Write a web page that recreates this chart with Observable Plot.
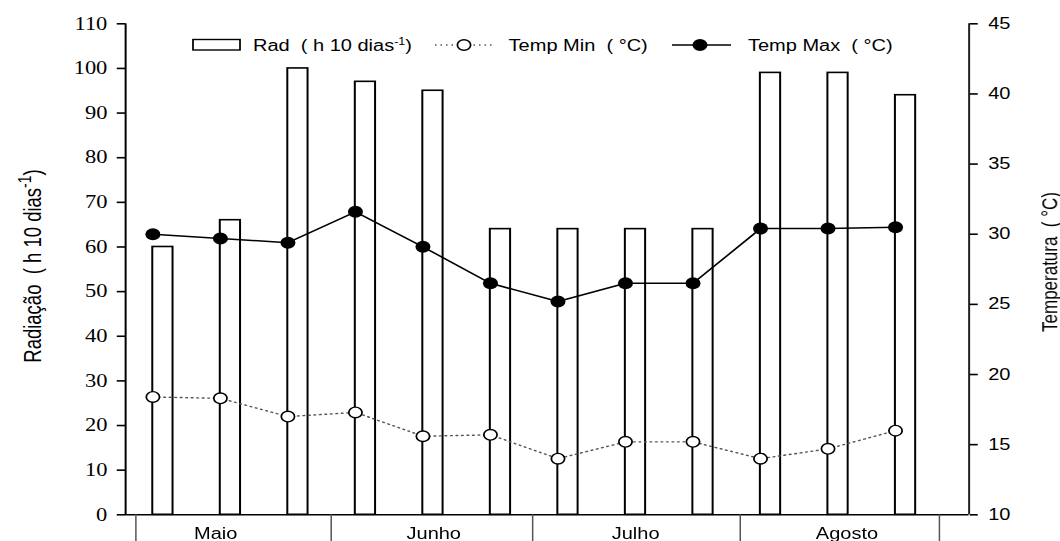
<!DOCTYPE html>
<html>
<head>
<meta charset="utf-8">
<script src="https://cdn.jsdelivr.net/npm/d3@7"></script>
<script src="https://cdn.jsdelivr.net/npm/@observablehq/plot@0.6"></script>
<style>
  html, body { margin: 0; padding: 0; background: #fff; overflow: hidden; }
  /* the figure is drawn narrow and widened, giving its wide lettering and oval markers */
  #chart { width: 848px; height: 541px; transform: scaleX(1.25); transform-origin: 0 0; }
  #chart svg { display: block; overflow: visible; }
</style>
</head>
<body>
<div id="chart"></div>
<script>
// ten-day periods (decêndios), May to August
const decades = [1, 2, 3, 4, 5, 6, 7, 8, 9, 10, 11, 12];
const months = ["Maio", "Junho", "Julho", "Agosto"];
const monthEdges = [0.748, 3.641, 6.625, 9.70, 12.65];   // boundaries between months, in decade units
const monthCenters = [1.93, 5.16, 8.15, 11.28];           // where each month name sits

// radiation (h per 10 days) and temperatures (°C)
const radiation = [60, 66, 100, 97, 95, 64, 64, 64, 64, 99, 99, 94];
const tempMin = [18.4, 18.3, 17.0, 17.3, 15.6, 15.7, 14.0, 15.2, 15.2, 14.0, 14.7, 16.0];
const tempMax = [30.0, 29.7, 29.4, 31.6, 29.1, 26.5, 25.2, 26.5, 26.5, 30.4, 30.4, 30.5];

const radTicks = [0, 10, 20, 30, 40, 50, 60, 70, 80, 90, 100, 110];
const tempTicks = [10, 15, 20, 25, 30, 35, 40, 45];

const radDomain = [0, 110];
const tempDomain = [10, 45];
const xDomain = [0.596, 13.09];
const barWidth = 0.3;

// temperature mapped onto the radiation axis (shared vertical extent)
const toRad = t => (t - tempDomain[0]) * (radDomain[1] - radDomain[0]) / (tempDomain[1] - tempDomain[0]);
const fromRad = v => tempDomain[0] + v * (tempDomain[1] - tempDomain[0]) / (radDomain[1] - radDomain[0]);

const rows = decades.map((d, i) => ({decade: d, rad: radiation[i], tmin: tempMin[i], tmax: tempMax[i]}));

const sans = "'Liberation Sans', Arial, sans-serif";
const serif = "'Liberation Serif', 'Times New Roman', serif";
const dotted = "1.2,3.2";

const chart = Plot.plot({
  width: 848,
  height: 541,
  marginLeft: 100,
  marginRight: 73.2,
  marginTop: 23.3,
  marginBottom: 26.7,
  x: {domain: xDomain, label: null},
  y: {domain: radDomain, label: null},
  style: {fontFamily: sans, background: "white", color: "black", overflow: "visible"},
  marks: [
    // radiation bars
    Plot.rect(rows, {x1: "decade", x2: d => d.decade + barWidth, y1: 0, y2: "rad",
      fill: "white", stroke: "black", strokeWidth: 1.6}),
    // axis lines
    Plot.ruleY([radDomain[0]], {stroke: "black", strokeWidth: 1.6}),
    Plot.ruleX([xDomain[0]], {stroke: "black", strokeWidth: 1.6}),
    Plot.ruleX([xDomain[1]], {stroke: "#222", strokeWidth: 1.6}),
    // left axis: radiation
    Plot.axisY(radTicks, {anchor: "left", tickSize: 6.6, tickPadding: 8, strokeWidth: 1.6,
      fontFamily: serif, fontSize: 18, label: null}),
    // right axis: temperature
    Plot.axisY(tempTicks.map(toRad), {anchor: "right", tickSize: 6.4, tickPadding: 8.8, strokeWidth: 1.6,
      tickFormat: v => Math.round(fromRad(v)), fontFamily: sans, fontSize: 16, label: null}),
    // month separators and names
    Plot.axisX(monthEdges, {anchor: "bottom", tickSize: 27, tickFormat: () => "",
      stroke: "#555", strokeWidth: 1.2, label: null}),
    Plot.axisX(monthCenters, {anchor: "bottom", tickSize: 0, tickPadding: 13,
      tickFormat: d => months[monthCenters.indexOf(d)], fontSize: 16, label: null}),
    // minimum temperature
    Plot.line(rows, {x: "decade", y: d => toRad(d.tmin), stroke: "#555", strokeWidth: 1.4, strokeDasharray: dotted}),
    Plot.dot(rows, {x: "decade", y: d => toRad(d.tmin), r: 5.3, fill: "white", stroke: "black", strokeWidth: 1.4}),
    // maximum temperature
    Plot.line(rows, {x: "decade", y: d => toRad(d.tmax), stroke: "black", strokeWidth: 1.5}),
    Plot.dot(rows, {x: "decade", y: d => toRad(d.tmax), r: 6, fill: "black", stroke: "none"})
  ]
});

document.getElementById("chart").append(chart);

const svg = d3.select(chart);

// axis titles
const leftTitle = svg.append("text")
  .attr("transform", "translate(32.8,266) rotate(-90)")
  .attr("text-anchor", "middle")
  .attr("font-family", sans).attr("font-size", 18.5).attr("fill", "black")
  .style("white-space", "pre");
leftTitle.append("tspan").text("Radiação  ( h 10 dias");
leftTitle.append("tspan").attr("dy", -8).attr("font-size", 14).text("-1");
leftTitle.append("tspan").attr("dy", 8).text(")");

svg.append("text")
  .attr("transform", "translate(846,262) rotate(-90)")
  .attr("text-anchor", "middle")
  .attr("font-family", sans).attr("font-size", 17).attr("fill", "black")
  .style("white-space", "pre")
  .text("Temperatura  ( °C)");

// legend
const legend = svg.append("g")
  .attr("font-family", sans).attr("font-size", 16).attr("fill", "black")
  .attr("text-anchor", "start")
  .style("white-space", "pre");

legend.append("rect")
  .attr("x", 154.4).attr("y", 39.5).attr("width", 37.6).attr("height", 10.5)
  .attr("fill", "white").attr("stroke", "black").attr("stroke-width", 1.4);
const radLabel = legend.append("text").attr("x", 202.4).attr("y", 51);
radLabel.append("tspan").text("Rad  ( h 10 dias");
radLabel.append("tspan").attr("dy", -6).attr("font-size", 10).text("-1");
radLabel.append("tspan").attr("dy", 6).text(")");

legend.append("line")
  .attr("x1", 348).attr("x2", 393.6).attr("y1", 45).attr("y2", 45)
  .attr("stroke", "#555").attr("stroke-width", 1.4).attr("stroke-dasharray", dotted);
legend.append("circle")
  .attr("cx", 371.2).attr("cy", 45).attr("r", 5.3)
  .attr("fill", "white").attr("stroke", "black").attr("stroke-width", 1.4);
legend.append("text").attr("x", 406.9).attr("y", 51).text("Temp Min  ( °C)");

legend.append("line")
  .attr("x1", 537.6).attr("x2", 584.8).attr("y1", 45).attr("y2", 45)
  .attr("stroke", "black").attr("stroke-width", 1.5);
legend.append("circle")
  .attr("cx", 560).attr("cy", 45).attr("r", 6).attr("fill", "black");
legend.append("text").attr("x", 598.4).attr("y", 51).text("Temp Max  ( °C)");
</script>
</body>
</html>
